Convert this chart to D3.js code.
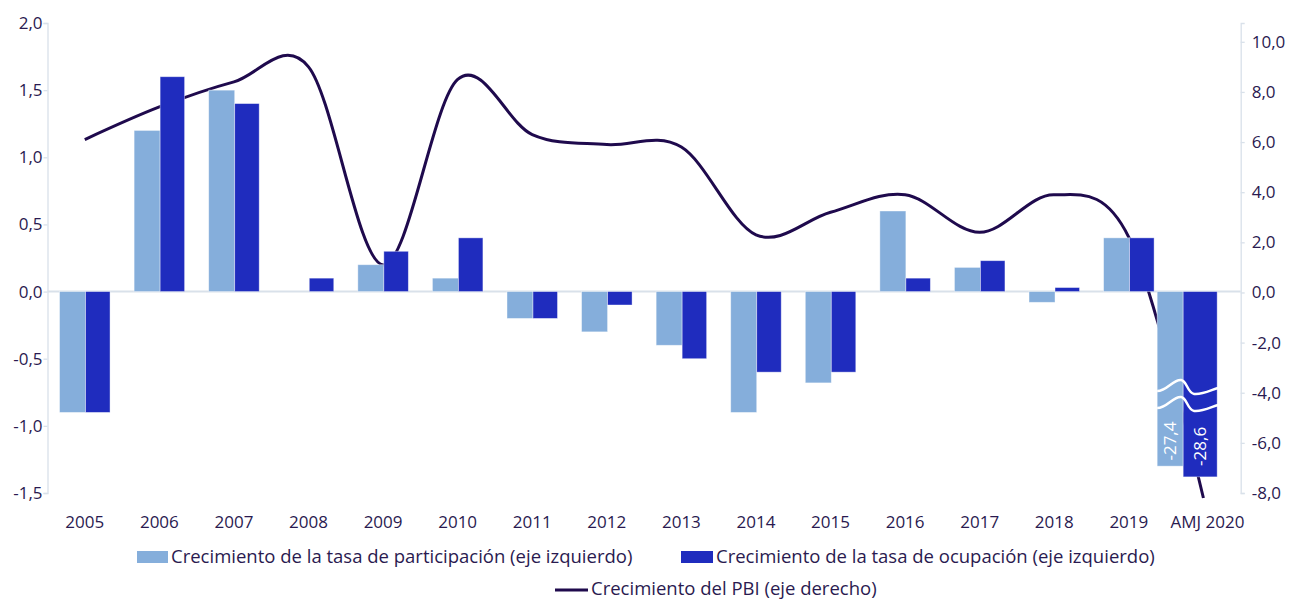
<!DOCTYPE html>
<html>
<head>
<meta charset="utf-8">
<script src="https://cdn.jsdelivr.net/npm/d3@7"></script>
<style>
  body { margin: 0; background: #fff; }
  svg { display: block; font-family: "Open Sans", sans-serif; }
</style>
</head>
<body>
<svg id="chart" width="1303" height="601"></svg>
<script>
// datos
const categories = ["2005", "2006", "2007", "2008", "2009", "2010", "2011", "2012",
    "2013", "2014", "2015", "2016", "2017", "2018", "2019", "AMJ 2020"];
const participacion = [-0.9, 1.2, 1.5, 0, 0.2, 0.1, -0.2, -0.3, -0.4, -0.9, -0.68, 0.6, 0.18, -0.08, 0.4, -27.4];
const ocupacion = [-0.9, 1.6, 1.4, 0.1, 0.3, 0.4, -0.2, -0.1, -0.5, -0.6, -0.6, 0.1, 0.23, 0.03, 0.4, -28.6];
const pbi = [6.1, 7.4, 8.4, 9.0, 1.1, 8.5, 6.3, 5.9, 5.8, 2.3, 3.2, 3.9, 2.4, 3.9, 2.2, -8.2];
// largo visible de las barras cortadas (eje izquierdo)
const cortadas = {participacion: -1.3, ocupacion: -1.38};
const corteEn = -0.74;

const leftTicks = [-1.5, -1.0, -0.5, 0, 0.5, 1.0, 1.5, 2.0];
const rightTicks = [-8, -6, -4, -2, 0, 2, 4, 6, 8, 10];

const colLight = "#85aedb", colDark = "#1f2cbe", colLine = "#1f0a4d", colText = "#2a1a50", colAxis = "#d9e1ea";

const svg = d3.select("#chart");
const mLeft = 47.5, mRight = 1240.7, mTop = 23, mBottom = 493;

const loc = d3.formatLocale({decimal: ",", thousands: ".", grouping: [3], currency: ["", ""], minus: "-"});
const fmt = loc.format(".1f");

const x = d3.scaleBand().domain(categories).range([mLeft, mRight])
    .paddingInner(0.323).paddingOuter(0.1615);
const yL = d3.scaleLinear().domain([-1.5, 2]).range([mBottom, mTop]);
const yR = d3.scaleLinear().domain([-8, 10.75]).range([mBottom, mTop]);

// ejes
const axL = svg.append("g").attr("transform", `translate(${mLeft},0)`)
    .call(d3.axisLeft(yL).tickValues(leftTicks).tickSize(4).tickPadding(1).tickFormat(fmt));
const axR = svg.append("g").attr("transform", `translate(${mRight},0)`)
    .call(d3.axisRight(yR).tickValues(rightTicks).tickSize(4).tickPadding(7).tickFormat(fmt));
[axL, axR].forEach(g => {
    g.select(".domain").attr("stroke", colAxis).attr("stroke-width", 1.3);
    g.selectAll(".tick line").attr("stroke", colAxis).attr("stroke-width", 1.3);
    g.selectAll(".tick text").attr("fill", colText).attr("font-size", 17)
        .attr("font-family", "Open Sans");
});

svg.append("line")
    .attr("x1", mLeft).attr("x2", mRight)
    .attr("y1", yL(0)).attr("y2", yL(0))
    .attr("stroke", colAxis).attr("stroke-width", 2);

// línea del PBI (va detrás de las barras)
const line = d3.line()
    .x((d, i) => x(categories[i]) + x.bandwidth() / 2)
    .y(d => yR(d))
    .curve(d3.curveCardinal.tension(0));

svg.append("path")
    .datum(pbi)
    .attr("fill", "none")
    .attr("stroke", colLine)
    .attr("stroke-width", 3)
    .attr("d", line);

const rows = categories.map((c, i) => ({c, p: participacion[i], o: ocupacion[i]}));
const isRota = d => d.p < yL.domain()[0];
const shown = (v, key) => v < yL.domain()[0] ? cortadas[key] : v;
const wL = 26, wD = 24.5;
// el grupo cortado está corrido a la izquierda y la barra oscura es más ancha
const rotaDx = -21, rotaWD = 34;
const bx = d => x(d.c) + (isRota(d) ? rotaDx : 0);

svg.append("g").selectAll("rect")
    .data(rows)
    .join("rect")
    .attr("x", d => bx(d))
    .attr("y", d => yL(Math.max(0, shown(d.p, "participacion"))))
    .attr("width", wL)
    .attr("height", d => Math.abs(yL(shown(d.p, "participacion")) - yL(0)))
    .attr("fill", colLight)
    .attr("stroke", "#fff").attr("stroke-opacity", 0.5).attr("stroke-width", 0.8);

svg.append("g").selectAll("rect")
    .data(rows)
    .join("rect")
    .attr("x", d => bx(d) + wL)
    .attr("y", d => yL(Math.max(0, shown(d.o, "ocupacion"))))
    .attr("width", d => isRota(d) ? rotaWD : wD)
    .attr("height", d => Math.abs(yL(shown(d.o, "ocupacion")) - yL(0)))
    .attr("fill", colDark)
    .attr("stroke", "#fff").attr("stroke-opacity", 0.5).attr("stroke-width", 0.8);

// marcas de corte y etiquetas de las barras fuera de escala
rows.filter(isRota).forEach(d => {
    const x0 = bx(d), yb = yL(corteEn);
    [0, 17].forEach(off => {
        svg.append("path")
            .attr("transform", `translate(${x0},${yb + off})`)
            .attr("d", "M0,0 C10,0 16,-12 24,-11 C30,-10 30,2 37,3 C45,4 54,-1 61,-3")
            .attr("fill", "none").attr("stroke", "#fff").attr("stroke-width", 2.5);
    });
    const labs = [
        {v: d.p, cx: x0 + wL / 2, yb: yL(cortadas.participacion)},
        {v: d.o, cx: x0 + wL + rotaWD / 2, yb: yL(cortadas.ocupacion)}
    ];
    labs.forEach(l => {
        const cy = (yb + 17 + l.yb) / 2 + 4;
        svg.append("text")
            .attr("transform", `translate(${l.cx},${cy}) rotate(-90)`)
            .attr("text-anchor", "middle")
            .attr("dy", "0.35em")
            .attr("fill", "#fff")
            .attr("font-size", 17)
            .text(fmt(l.v));
    });
});

// etiquetas de categorías
svg.append("g").selectAll("text")
    .data(categories)
    .join("text")
    .attr("x", d => x(d) + x.bandwidth() / 2 + (d === "AMJ 2020" ? 4 : 0))
    .attr("y", 522)
    .attr("dy", "0.35em")
    .attr("text-anchor", "middle")
    .attr("fill", colText)
    .attr("font-size", 17)
    .text(d => d);

// leyenda
const leg = svg.append("g").attr("font-size", 18.5).attr("fill", colText);
leg.append("rect").attr("x", 137).attr("y", 551).attr("width", 31).attr("height", 12).attr("fill", colLight);
leg.append("text").attr("x", 171).attr("y", 557).attr("dy", "0.35em")
    .text("Crecimiento de la tasa de participación (eje izquierdo)");
leg.append("rect").attr("x", 681).attr("y", 551).attr("width", 32).attr("height", 12).attr("fill", colDark);
leg.append("text").attr("x", 716).attr("y", 557).attr("dy", "0.35em")
    .text("Crecimiento de la tasa de ocupación (eje izquierdo)");
leg.append("line").attr("x1", 555).attr("x2", 588).attr("y1", 590).attr("y2", 590)
    .attr("stroke", colLine).attr("stroke-width", 3);
leg.append("text").attr("x", 591).attr("y", 589).attr("dy", "0.35em")
    .text("Crecimiento del PBI (eje derecho)");
</script>
</body>
</html>
